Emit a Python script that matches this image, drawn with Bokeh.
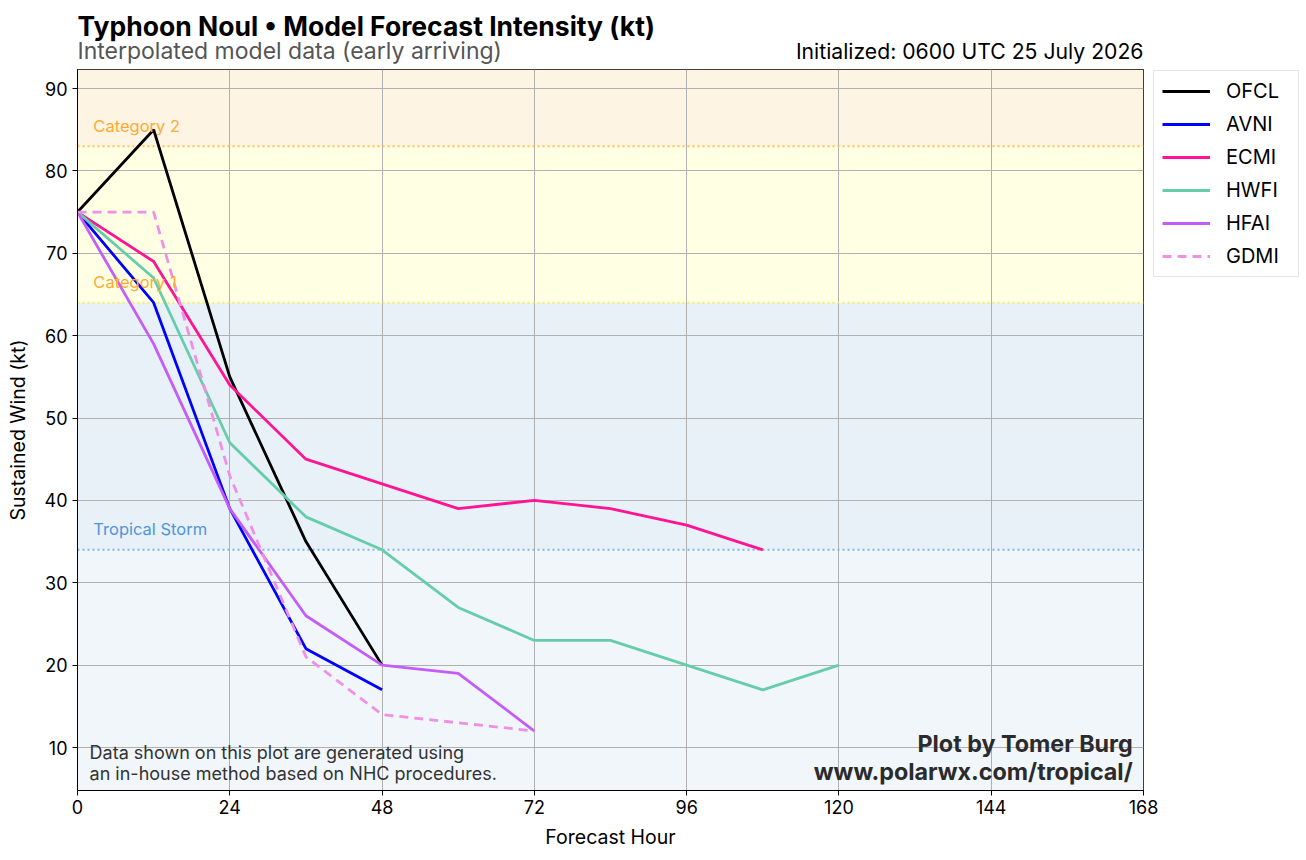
from bokeh.plotting import figure
from bokeh.layouts import column
from bokeh.models import (Range1d, BoxAnnotation, Span, Label, Legend, LegendItem,
                          FixedTicker, ColumnDataSource)
from bokeh.core.properties import value
from bokeh.embed import file_html
from bokeh.resources import INLINE

FONT = "Inter"

# Forecast hours and intensities (kt) per model
ofcl_hr = [0, 12, 24, 36, 48]
ofcl_kt = [75, 85, 55, 35, 20]

avni_hr = [0, 12, 24, 36, 48]
avni_kt = [75, 64, 39, 22, 17]

ecmi_hr = [0, 12, 24, 36, 48, 60, 72, 84, 96, 108]
ecmi_kt = [75, 69, 54, 45, 42, 39, 40, 39, 37, 34]

hwfi_hr = [0, 12, 24, 36, 48, 60, 72, 84, 96, 108, 120]
hwfi_kt = [75, 67, 47, 38, 34, 27, 23, 23, 20, 17, 20]

hfai_hr = [0, 12, 24, 36, 48, 60, 72]
hfai_kt = [75, 59, 39, 26, 20, 19, 12]

gdmi_hr = [0, 12, 24, 36, 48, 60, 72]
gdmi_kt = [75, 75, 43, 21, 14, 13, 12]

x_ticks = [0, 24, 48, 72, 96, 120, 144, 168]
y_ticks = [10, 20, 30, 40, 50, 60, 70, 80, 90]

# Saffir-Simpson thresholds (kt)
ts_kt, cat1_kt, cat2_kt = 34, 64, 83

Y0, Y1 = 4.78, 92.31
FW, FH = 1066, 721
LEFT, RIGHT = 77, 163

# ---- header strip with the titles (pixel coordinates, y grows downward) ----
head = figure(frame_width=FW, frame_height=68, output_backend="svg", toolbar_location=None,
              x_range=Range1d(0, FW), y_range=Range1d(68, 0),
              min_border_left=LEFT, min_border_right=RIGHT, min_border_top=0,
              min_border_bottom=0, outline_line_color=None)
head.axis.visible = False
head.grid.visible = False
head.text(x=[0], y=[25], text=["Typhoon Noul \u2022 Model Forecast Intensity (kt)"],
          text_font=value(FONT), text_font_size="26.5px", text_font_style="bold",
          text_color="black", text_baseline="middle")
head.text(x=[0], y=[50], text=["Interpolated model data (early arriving)"],
          text_font=value(FONT), text_font_size="23px", text_color="#555555",
          text_baseline="middle")
head.text(x=[FW], y=[50], text=["Initialized: 0600 UTC 25 July 2026"],
          text_font=value(FONT), text_font_size="21.2px", text_color="black",
          text_baseline="middle", text_align="right")

# ---- main chart ----
p = figure(frame_width=FW, frame_height=FH, output_backend="svg", toolbar_location=None,
           x_range=Range1d(0, 168), y_range=Range1d(Y0, Y1),
           min_border_left=LEFT, min_border_top=1, min_border_bottom=70,
           min_border_right=0)

p.outline_line_color = "black"
p.outline_line_width = 1
p.background_fill_color = "white"

# intensity bands
for lo, hi, col in [(Y0, ts_kt, "#f1f6fb"), (ts_kt, cat1_kt, "#e8f0f8"),
                    (cat1_kt, cat2_kt, "#ffffe4"), (cat2_kt, Y1, "#fef4e4")]:
    p.add_layout(BoxAnnotation(bottom=lo, top=hi, fill_color=col, fill_alpha=1,
                               line_color=None, level="image"))

for yv, col in [(ts_kt, "#7fb5e6"), (cat1_kt, "#f2ec6a"), (cat2_kt, "#ffc24a")]:
    p.add_layout(Span(location=yv, dimension="width", line_color=col,
                      line_width=2, line_dash="2 3", level="underlay"))

# grid
for g in (p.xgrid, p.ygrid):
    g.grid_line_color = "#b0b0b0"
    g.grid_line_width = 1
p.xgrid.ticker = FixedTicker(ticks=x_ticks)
p.ygrid.ticker = FixedTicker(ticks=y_ticks)

# axes
p.xaxis.ticker = FixedTicker(ticks=x_ticks)
p.yaxis.ticker = FixedTicker(ticks=y_ticks)
for ax in (p.xaxis[0], p.yaxis[0]):
    ax.major_label_text_font = FONT
    ax.major_label_text_font_size = "18px"
    ax.major_label_text_color = "black"
    ax.axis_label_text_font = FONT
    ax.axis_label_text_font_size = "19.5px"
    ax.axis_label_text_font_style = "normal"
    ax.axis_label_text_color = "black"
    ax.major_tick_in = 0
    ax.major_tick_out = 5
    ax.major_tick_line_color = "black"
    ax.minor_tick_line_color = None
    ax.axis_line_color = "black"
p.xaxis.axis_label = "Forecast Hour"
p.yaxis.axis_label = "Sustained Wind (kt)"
p.xaxis.axis_label_standoff = 8
p.yaxis.axis_label_standoff = 12
p.xaxis.major_label_standoff = 4
p.yaxis.major_label_standoff = 5

# threshold labels
for txt, yv, col in [("Category 2", 85.5, "#ffaa33"), ("Category 1", 66.5, "#ffaa33"),
                     ("Tropical Storm", 36.5, "#4f96d8")]:
    p.add_layout(Label(x=2.5, y=yv, text=txt, text_color=col, text_font=FONT,
                       text_font_size="16.5px", text_baseline="middle"))

# model tracks
series = [
    ("OFCL", ofcl_hr, ofcl_kt, "black", "solid"),
    ("AVNI", avni_hr, avni_kt, "#0000ff", "solid"),
    ("ECMI", ecmi_hr, ecmi_kt, "#ff1493", "solid"),
    ("HWFI", hwfi_hr, hwfi_kt, "#66cdaa", "solid"),
    ("HFAI", hfai_hr, hfai_kt, "#c45cf7", "solid"),
    ("GDMI", gdmi_hr, gdmi_kt, "#ee90e6", "9 6"),
]
items = []
for name, hr, kt, col, dash in series:
    src = ColumnDataSource(dict(x=hr, y=kt))
    r = p.line("x", "y", source=src, line_color=col, line_width=2.8, line_dash=dash)
    items.append(LegendItem(label=name, renderers=[r]))

legend = Legend(items=items, location=(10, 513))
legend.label_text_font = FONT
legend.label_text_font_size = "20px"
legend.label_text_color = "black"
legend.glyph_width = 48
legend.glyph_height = 20
legend.label_height = 20
legend.label_width = 64
legend.label_standoff = 16
legend.spacing = 9
legend.padding = 8
legend.margin = 0
legend.border_line_color = "#cccccc"
legend.border_line_width = 1
legend.background_fill_color = "white"
p.add_layout(legend, "right")

# credits
for txt, yv in [("Data shown on this plot are generated using", 9.42),
                ("an in-house method based on NHC procedures.", 6.87)]:
    p.add_layout(Label(x=1.9, y=yv, text=txt, text_font=FONT, text_font_size="18px",
                       text_color="#333333", text_baseline="middle"))
for txt, yv in [("Plot by Tomer Burg", 10.5), ("www.polarwx.com/tropical/", 7.1)]:
    p.add_layout(Label(x=166.3, y=yv, text=txt, text_font=FONT, text_font_size="23.3px",
                       text_font_style="bold", text_color="#2b2b2b", text_baseline="middle",
                       text_align="right"))

layout = column(head, p, spacing=0)
open("out.html", "w").write(file_html(layout, INLINE))
